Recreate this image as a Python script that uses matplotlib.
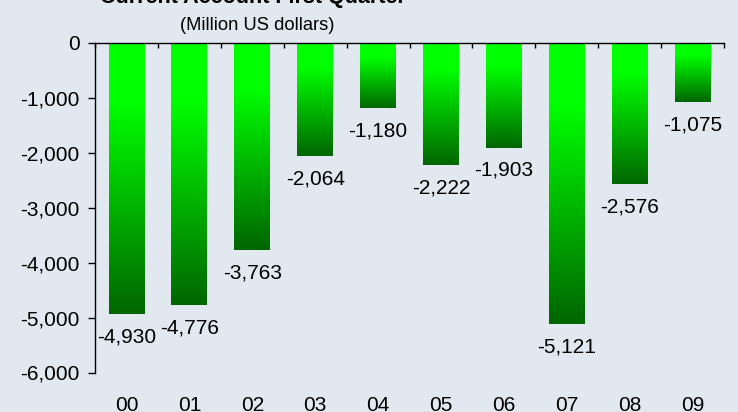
import numpy as np
import matplotlib
matplotlib.use("Agg")
import matplotlib.pyplot as plt
from matplotlib.colors import LinearSegmentedColormap

categories = ["00", "01", "02", "03", "04", "05", "06", "07", "08", "09"]
values = [-4930, -4776, -3763, -2064, -1180, -2222, -1903, -5121, -2576, -1075]
yticks = [0, -1000, -2000, -3000, -4000, -5000, -6000]
title = "Current Account First Quarter"
subtitle = "(Million US dollars)"

plt.rcParams['font.family'] = ['Liberation Sans', 'DejaVu Sans']

bg = '#e1e8ef'
W, H = 738, 412
fs = 15
fig = plt.figure(figsize=(W / 100, H / 100), dpi=100, facecolor=bg)
ax = fig.add_axes([95 / W, 1 - 372.5 / H, (724 - 95) / W, (372.5 - 43) / H])
ax.set_facecolor(bg)

cmap = LinearSegmentedColormap.from_list('g', [(0, '#00ff00'), (0.22, '#00ff00'), (1, '#006600')])
grad = np.linspace(0, 1, 256).reshape(-1, 1)
x = np.arange(len(categories))
bw = 0.57
for xi, v in zip(x, values):
    ax.imshow(grad, cmap=cmap, aspect='auto', extent=[xi - bw / 2, xi + bw / 2, v, 0],
              origin='upper', zorder=2, interpolation='bilinear')
    ax.annotate(f"{v:,}", xy=(xi, v), xytext=(0, -16.5),
                textcoords='offset points', ha='center', va='center', fontsize=fs)

ax.set_xlim(-0.5, len(categories) - 0.5)
ax.set_ylim(-6000, 0)
ax.set_yticks(yticks)
ax.set_yticklabels([f"{t:,}" for t in yticks], fontsize=fs)
ax.set_xticks(x)
ax.set_xticklabels(categories, fontsize=fs)
ax.set_xticks(np.arange(len(categories) + 1) - 0.5, minor=True)
ax.tick_params(axis='x', which='major', length=0, pad=17)
ax.tick_params(axis='x', which='minor', bottom=False, top=True, direction='in', length=3.5, width=1)
ax.tick_params(axis='y', which='major', length=5, width=1, pad=6)

for s in ['right', 'bottom']:
    ax.spines[s].set_visible(False)
for s in ['left', 'top']:
    ax.spines[s].set_linewidth(1)
    ax.spines[s].set_color('black')

fig.text(253 / W, 1 - 3 / H, title, ha='center', va='baseline', fontsize=15.5, fontweight='bold')
fig.text(257 / W, 1 - 25 / H, subtitle, ha='center', va='center', fontsize=13.2)

fig.savefig('out.png', dpi=100, facecolor=bg)
